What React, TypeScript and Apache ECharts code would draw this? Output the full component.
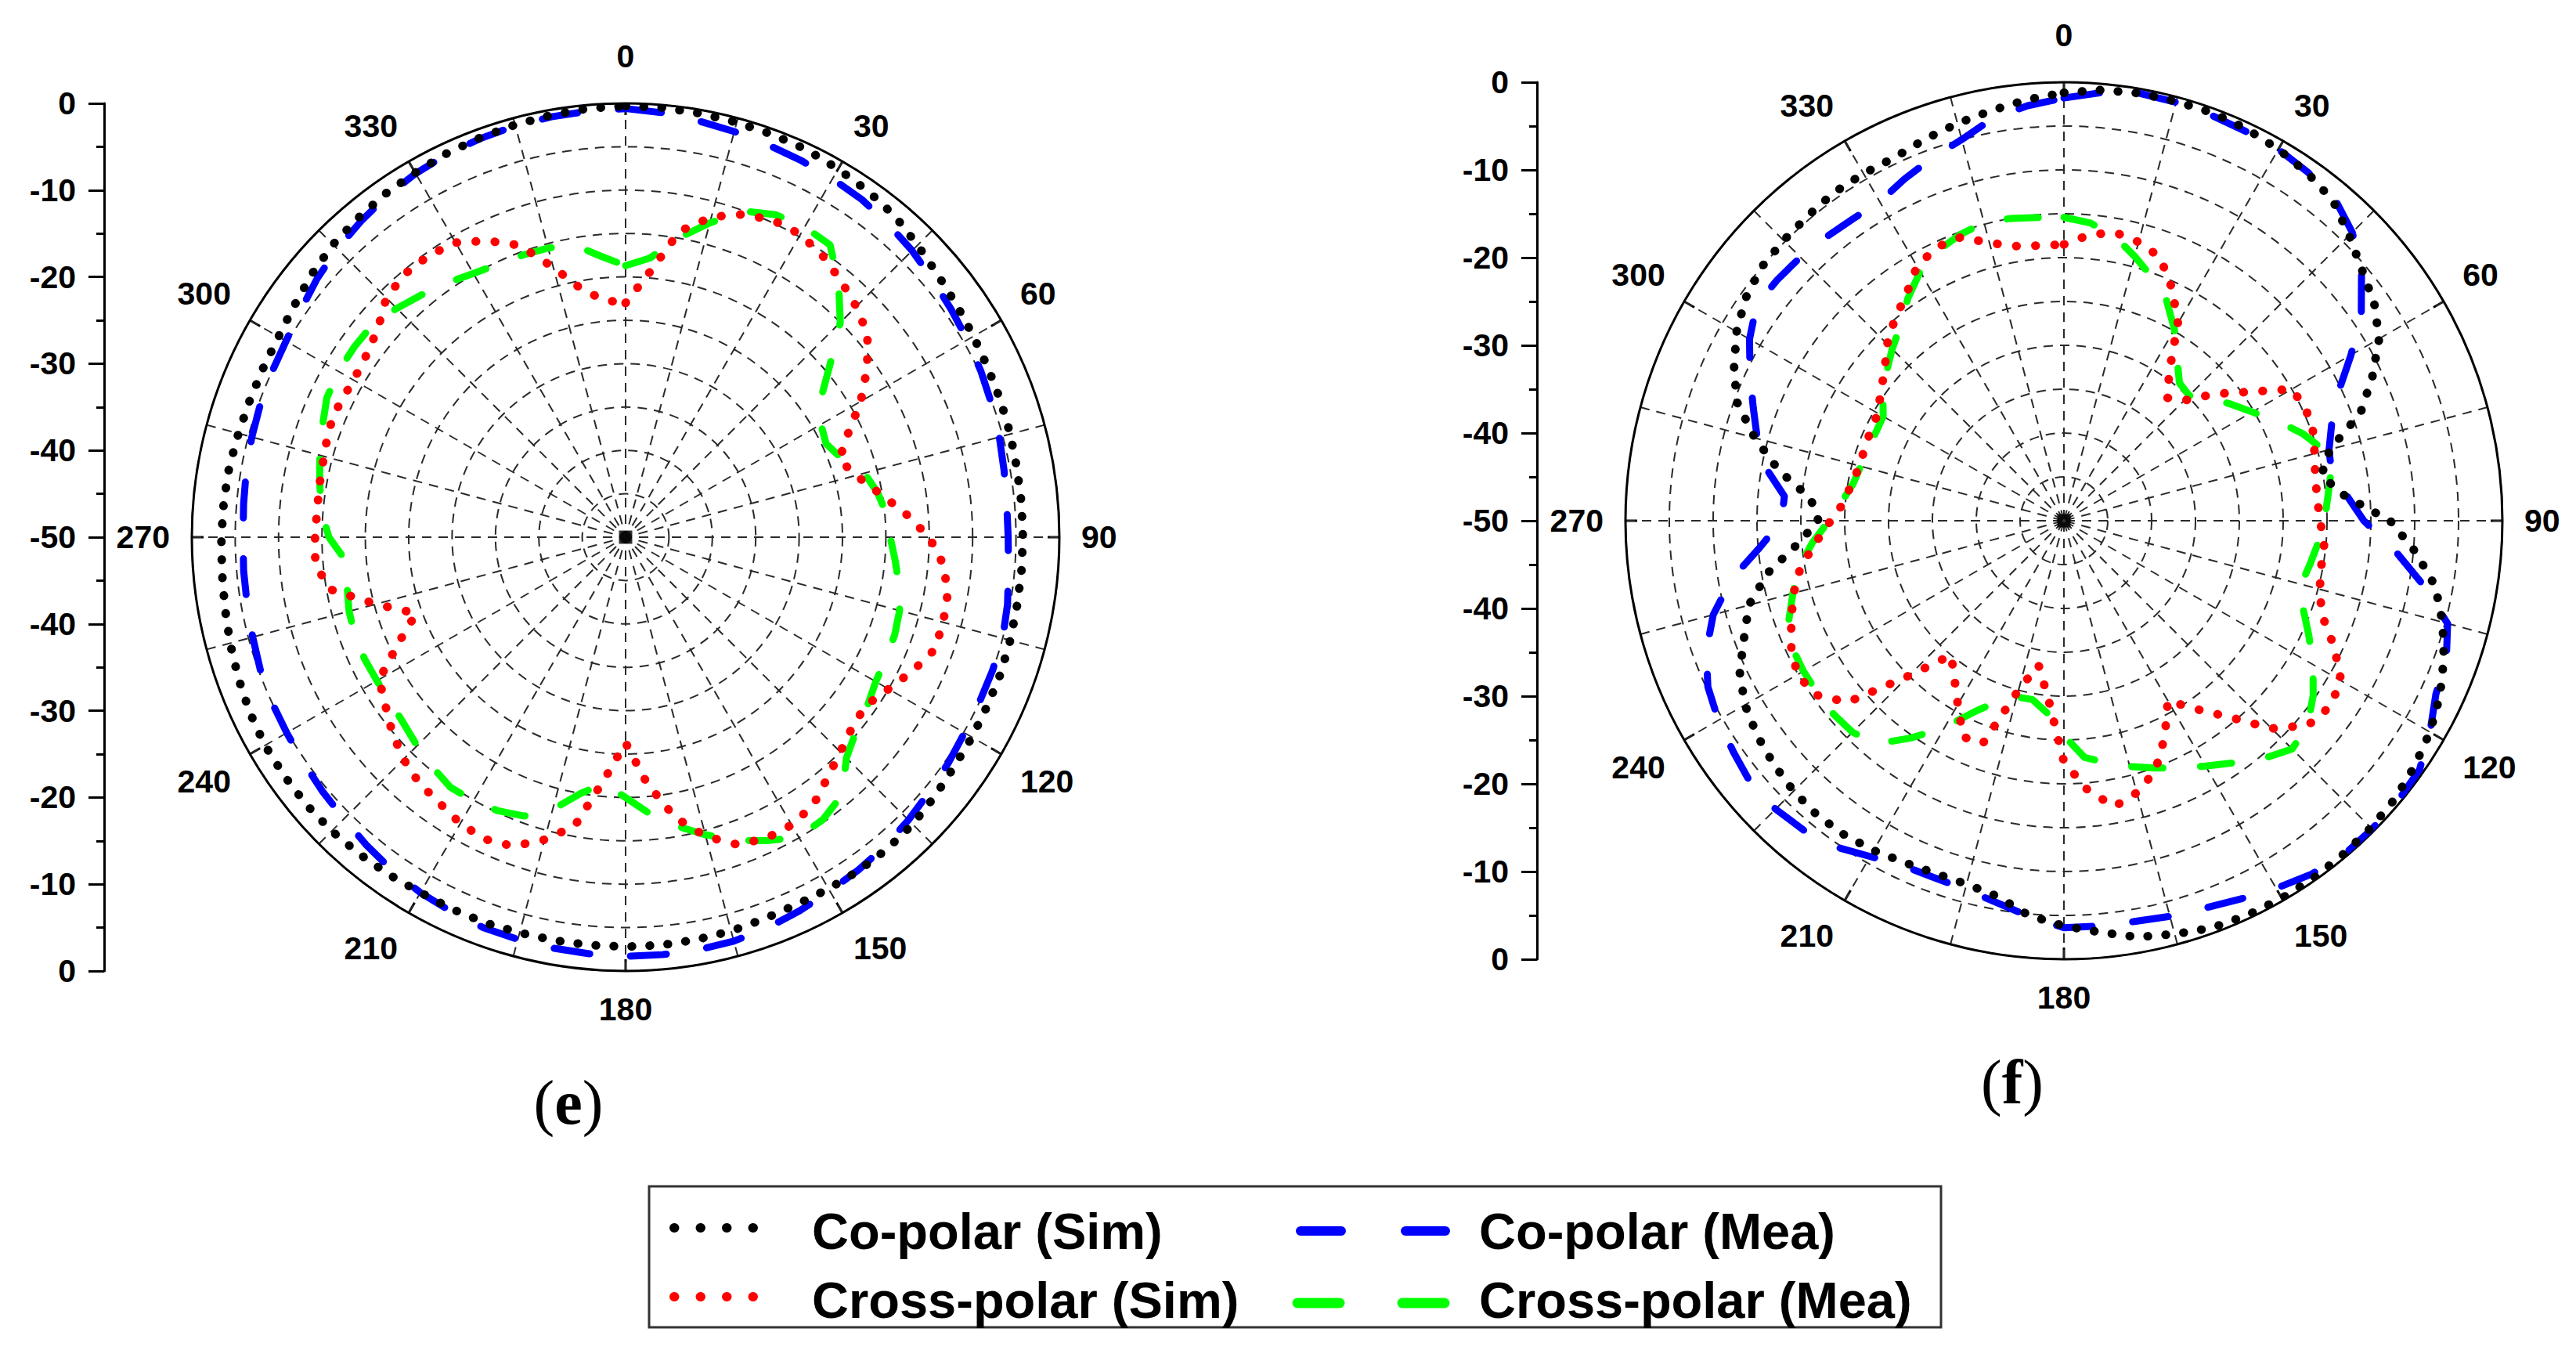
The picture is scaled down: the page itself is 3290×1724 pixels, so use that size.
import React, { useEffect, useRef } from "react";
import * as echarts from "echarts";

// Angle (deg) of every sample, shared by all series
const ANGLES = [
  0, 5, 10, 15, 20, 25, 30, 35, 40, 45, 50, 55,
  60, 65, 70, 75, 80, 85, 90, 95, 100, 105, 110, 115,
  120, 125, 130, 135, 140, 145, 150, 155, 160, 165, 170, 175,
  180, 185, 190, 195, 200, 205, 210, 215, 220, 225, 230, 235,
  240, 245, 250, 255, 260, 265, 270, 275, 280, 285, 290, 295,
  300, 305, 310, 315, 320, 325, 330, 335, 340, 345, 350, 355,
];

// (e) values in dB
const E_CO_SIM = [
  -0.3, -0.3, -0.4, -0.5, -0.6, -0.7, -1, -1.3, -1.7, -2.4, -3, -3.4,
  -3.7, -3.9, -4, -4.1, -4.2, -4.2, -4.2, -4.2, -4.2, -4.1, -4, -4,
  -3.9, -3.8, -3.5, -3.2, -3.1, -3.1, -3.2, -3.3, -3.2, -3, -2.9, -2.8,
  -2.8, -2.8, -2.8, -2.8, -2.7, -2.7, -2.7, -2.5, -2.3, -2.1, -2, -2,
  -2, -2.2, -2.5, -2.8, -3.1, -3.3, -3.4, -3.5, -3.6, -3.8, -3.9, -3.9,
  -3.8, -3.4, -2.8, -2.3, -2, -1.7, -1.5, -1.2, -1, -0.8, -0.6, -0.4,
];
const E_CO_MEA = [
  -0.6, -0.9, -1.3, -1.6, -1.9, -2.1, -2.3, -2.5, -2.9, -3.3, -3.8, -4.2,
  -4.5, -4.8, -5.1, -5.4, -5.7, -5.9, -5.9, -5.7, -5.3, -5, -5, -5,
  -4.9, -4.6, -4.3, -3.9, -3.5, -3.2, -2.9, -2.5, -2.1, -1.8, -1.7, -1.7,
  -1.7, -1.8, -1.9, -2, -2.1, -2.4, -2.7, -3.1, -3.6, -4.1, -4.4, -4.7,
  -4.9, -5, -5.2, -5.5, -5.7, -5.8, -5.9, -5.8, -5.6, -5.4, -5.2, -5,
  -4.8, -4.3, -3.6, -3, -2.5, -2, -1.6, -1.3, -1.1, -0.9, -0.8, -0.7,
];
const E_CROSS_SIM = [
  -23, -19.5, -14.2, -11.8, -10.4, -9.7, -9.7, -10.4, -11.4, -12.4, -13.6, -16,
  -18.7, -21.7, -23.8, -22.5, -20.4, -17.7, -15, -13.2, -12.3, -12.1, -12.1, -13.5,
  -15, -16.2, -15.9, -15, -13.8, -12.3, -11.7, -11.7, -12.3, -14.3, -17.2, -21.5,
  -26.3, -22, -16.2, -13.9, -12.1, -11.6, -11.9, -12.6, -13, -13.8, -14.9, -16.2,
  -17.2, -21.1, -24.3, -20.2, -15.4, -14.1, -14.2, -14.3, -14.2, -14, -13.6, -13.6,
  -13.8, -13.5, -12.7, -11, -10.4, -10.4, -10.8, -12.3, -14.2, -17.8, -21, -22.6,
];
const E_CROSS_MEA = [
  -18.7, -17.7, -15, -12.5, -10, -9, -8.7, -8.9, -11.8, -15, -19.3, -22.6,
  -24, -24.5, -23.5, -21.5, -20.5, -19.8, -19.5, -18.8, -18, -17.3, -17, -16.9,
  -16.7, -16, -15.3, -14, -11.2, -10.3, -10.1, -11.4, -12.8, -14.5, -16.2, -18,
  -20, -21.5, -20, -17.5, -15.8, -15.2, -14.9, -14.8, -15.4, -16, -16.6, -16.9,
  -16.9, -16.8, -16.8, -17, -17.4, -17.7, -15.8, -14.8, -14.2, -13.5, -12.8, -12,
  -11.8, -11.8, -11.9, -12.7, -13.5, -14.2, -14.9, -15.3, -15.4, -15.5, -15.8, -17.5,
];

// (f) values in dB
const F_CO_SIM = [
  -1.2, -0.7, -0.5, -0.5, -0.5, -0.7, -1.1, -1.6, -2.3, -4, -5.6, -6.8,
  -8.5, -11.2, -14, -18.6, -20.2, -17.8, -12.8, -9.8, -7, -5.3, -3.9, -2.7,
  -1.8, -1.2, -0.7, -0.5, -0.4, -0.3, -0.3, -0.4, -0.6, -1.2, -1.8, -2.9,
  -3.8, -4.8, -6.5, -7.1, -7.2, -7, -6.6, -6.3, -6.2, -6.4, -6.8, -7.3,
  -8, -9.2, -11.2, -12.8, -15.7, -19.5, -22, -21, -17, -13.5, -10.3, -8.5,
  -6.9, -5.7, -5, -4.8, -4.6, -4.3, -4.3, -4.3, -3.7, -3.1, -2.5, -1.8,
];
const F_CO_MEA = [
  -1.8, -1, -0.5, -0.6, -0.8, -1, -1.1, -1.5, -2, -3.5, -5.7, -8.6,
  -12.2, -15.5, -17.5, -18.7, -19, -17.6, -15.8, -12.2, -8.5, -4.7, -3.6, -3.2,
  -1.8, -0.5, -0.3, -0.3, -0.3, -0.8, -1.6, -2.4, -3, -3.3, -3.6, -3.6,
  -3.6, -4.7, -5.8, -6.5, -6.7, -6.6, -5.8, -4.6, -3.9, -3.5, -3.4, -4,
  -4.5, -5.2, -6.6, -8.6, -11.5, -15.2, -17.8, -18, -15.5, -13.8, -12.3, -10.5,
  -8.6, -7.2, -7.3, -7.5, -7.8, -8, -8, -7, -6, -5, -3.4, -2.5,
];
const F_CROSS_SIM = [
  -18.5, -17.3, -16.6, -17.1, -18, -20.8, -24, -29, -31.7, -30.6, -27.5, -24.4,
  -20, -19.6, -19.8, -20.4, -20.9, -21, -20.8, -20.2, -20.2, -19.8, -18.7, -16,
  -13.5, -13, -13.7, -16.5, -20.8, -23.8, -26.3, -22.8, -19.6, -17.9, -16.9, -19.2,
  -22.5, -29.6, -33.3, -30, -23, -22.8, -25.8, -28.2, -30, -25, -17.8, -15.4,
  -14.9, -15.7, -16.9, -18.1, -19.5, -21.6, -23.4, -24.9, -25.4, -25.9, -25.8, -25.7,
  -25.5, -24.5, -23.3, -21.5, -20, -18.6, -16.5, -15.6, -15.6, -17.2, -18.2, -18.5,
];
const F_CROSS_MEA = [
  -15.4, -15.9, -17, -18.8, -20.5, -22.3, -24.8, -27.5, -29.5, -29.8, -28.3, -26.8,
  -25.2, -23.1, -21, -19.2, -19.1, -19.8, -20.3, -20.9, -21.5, -22, -21, -19.2,
  -17.2, -15.3, -13.7, -13.2, -14.6, -16.3, -17.7, -18.9, -20, -21, -22, -22.9,
  -25.5, -28, -29.3, -29.2, -28.1, -26, -22.8, -19.8, -16.8, -15.9, -15.7, -15.7,
  -15.7, -15.8, -16.6, -18, -19.3, -21.2, -23.2, -24.6, -25.6, -26, -26.2, -26.3,
  -26.2, -24.8, -23.6, -22.3, -21, -19, -17.2, -16, -15.3, -14.8, -15, -15.3,
];

// Left-hand dB scale labels (top -> centre -> bottom)
const SCALE_LABELS = ["0", "-10", "-20", "-30", "-40", "-50", "-40", "-30", "-20", "-10", "0"];
const SERIES_NAMES = ["Co-polar (Sim)", "Co-polar (Mea)", "Cross-polar (Sim)", "Cross-polar (Mea)"];
const PANEL_NAMES = ["e", "f"];

const FONT = "Liberation Sans, Arial, sans-serif";
const SERIF = "Liberation Serif, Times New Roman, serif";

const STYLES = {
  coSim: { color: "#000000", width: 11, type: [0.5, 22.5], cap: "round" },
  coMea: { color: "#0000ff", width: 9, type: [46, 52], cap: "round" },
  crossSim: { color: "#ff0000", width: 11, type: [0.5, 24], cap: "round" },
  crossMea: { color: "#00ff00", width: 9, type: [40, 48], cap: "round" },
};

const GRID_LINE = { color: "#2a2a2a", width: 2, type: [12, 9] };

function closed(vals: number[]) {
  const d = ANGLES.map((a, i) => [vals[i], a]);
  d.push([vals[0], 360]);
  return d;
}

function buildOption() {
  const panels = [
    { center: [799, 686], r: 554, axisX: 133, data: [E_CO_MEA, E_CROSS_MEA, E_CROSS_SIM, E_CO_SIM] },
    { center: [2636, 665], r: 560, axisX: 1963, data: [F_CO_MEA, F_CROSS_MEA, F_CROSS_SIM, F_CO_SIM] },
  ];
  const keys = ["coMea", "crossMea", "crossSim", "coSim"];
  const names = [SERIES_NAMES[1], SERIES_NAMES[3], SERIES_NAMES[2], SERIES_NAMES[0]];

  const polar: any[] = [];
  const angleAxis: any[] = [];
  const radiusAxis: any[] = [];
  const grid: any[] = [];
  const xAxis: any[] = [];
  const yAxis: any[] = [];
  const series: any[] = [];

  panels.forEach((p, pi) => {
    polar.push({ center: p.center, radius: p.r });
    angleAxis.push({
      polarIndex: pi,
      type: "value",
      min: 0,
      max: 360,
      interval: 30,
      startAngle: 90,
      clockwise: true,
      axisLine: { show: true, lineStyle: { color: "#000", width: 3 } },
      axisTick: { show: true, inside: true, length: 15, lineStyle: { color: "#000", width: 3 } },
      minorTick: { show: false, splitNumber: 2 },
      axisLabel: {
        show: true,
        margin: 28,
        fontSize: 41,
        fontWeight: "bold",
        fontFamily: FONT,
        color: "#000",
        formatter: (v: number) => (v >= 360 ? "" : v === 0 ? "{top|0}" : String(v)),
        rich: {
          top: { fontSize: 41, fontWeight: "bold", fontFamily: FONT, color: "#000", padding: [0, 0, 12, 0] },
        },
      },
      splitLine: { show: true, lineStyle: GRID_LINE },
      minorSplitLine: { show: true, lineStyle: GRID_LINE },
    });
    radiusAxis.push({
      polarIndex: pi,
      type: "value",
      min: -50,
      max: 0,
      interval: 5,
      axisLine: { show: false },
      axisTick: { show: false },
      axisLabel: { show: false },
      splitLine: { show: true, lineStyle: GRID_LINE },
    });
    grid.push({ left: p.axisX, top: p.center[1] - p.r, width: 1, height: 2 * p.r });
    xAxis.push({ gridIndex: pi, type: "value", show: false });
    yAxis.push({
      gridIndex: pi,
      type: "value",
      min: 0,
      max: 100,
      interval: 10,
      inverse: true,
      position: "left",
      axisLine: { show: true, lineStyle: { color: "#000", width: 3 } },
      axisTick: { show: true, inside: false, length: 20, lineStyle: { color: "#000", width: 3 } },
      minorTick: { show: true, splitNumber: 2, length: 10, lineStyle: { color: "#000", width: 3 } },
      splitLine: { show: false },
      axisLabel: {
        margin: 36,
        fontSize: 41,
        fontWeight: "bold",
        fontFamily: FONT,
        color: "#000",
        formatter: (v: number) => SCALE_LABELS[Math.round(v / 10)],
      },
    });
    p.data.forEach((vals, si) => {
      const st: any = (STYLES as any)[keys[si]];
      series.push({
        name: names[si],
        type: "line",
        coordinateSystem: "polar",
        polarIndex: pi,
        showSymbol: false,
        symbol: "none",
        smooth: false,
        silent: true,
        z: 3 + si,
        lineStyle: { color: st.color, width: st.width, type: st.type, cap: st.cap, join: "round" },
        data: closed(vals),
      });
    });
    series.push({
      type: "scatter",
      coordinateSystem: "polar",
      polarIndex: pi,
      symbol: "rect",
      symbolSize: 17,
      itemStyle: { color: "#000" },
      silent: true,
      z: 10,
      data: [[-50, 0]],
    });
  });

  // Legend box (drawn as graphic)
  const lx = 829, ly = 1515, lw = 1650, lh = 180;
  const row1 = 1568, row2 = 1656;
  const legendItems: any[] = [
    { type: "rect", shape: { x: lx, y: ly, width: lw, height: lh }, style: { fill: "#fff", stroke: "#333", lineWidth: 3 } },
    { type: "line", shape: { x1: 861, y1: row1, x2: 995, y2: row1 }, style: { stroke: "#000", lineWidth: 12, lineDash: [0.5, 33], lineCap: "round" } },
    { type: "line", shape: { x1: 861, y1: row2, x2: 995, y2: row2 }, style: { stroke: "#ff0000", lineWidth: 12, lineDash: [0.5, 33], lineCap: "round" } },
    { type: "line", shape: { x1: 1661, y1: row1 + 4, x2: 1846, y2: row1 + 4 }, style: { stroke: "#0000ff", lineWidth: 12, lineDash: [52, 82], lineCap: "round" } },
    { type: "line", shape: { x1: 1657, y1: row2 + 8, x2: 1848, y2: row2 + 8 }, style: { stroke: "#00ff00", lineWidth: 13, lineDash: [54, 80], lineCap: "round" } },
  ];
  const texts = [
    { x: 1037, y: row1, t: SERIES_NAMES[0] },
    { x: 1037, y: row2, t: SERIES_NAMES[2] },
    { x: 1889, y: row1, t: SERIES_NAMES[1] },
    { x: 1889, y: row2, t: SERIES_NAMES[3] },
  ];
  texts.forEach((o) =>
    legendItems.push({
      type: "text",
      x: o.x,
      y: o.y + 4,
      style: {
        text: o.t,
        fontSize: 65,
        fontWeight: "bold",
        fontFamily: FONT,
        fill: "#000",
        textAlign: "left",
        textVerticalAlign: "middle",
      },
    })
  );

  const captions = [
    { x: 726, y: 1408, t: PANEL_NAMES[0] },
    { x: 2570, y: 1382, t: PANEL_NAMES[1] },
  ].map((c) => ({
    type: "text",
    x: c.x,
    y: c.y,
    style: {
      text: "{p|(}{b|" + c.t + "}{p|)}",
      textAlign: "center",
      textVerticalAlign: "middle",
      rich: {
        p: { fontSize: 80, fontFamily: SERIF, fill: "#000" },
        b: { fontSize: 80, fontFamily: SERIF, fontWeight: "bold", fill: "#000" },
      },
    },
  }));

  return {
    animation: false,
    backgroundColor: "#ffffff",
    polar,
    angleAxis,
    radiusAxis,
    grid,
    xAxis,
    yAxis,
    series,
    graphic: [...legendItems, ...captions],
  };
}

export default function App() {
  const ref = useRef<HTMLDivElement>(null);
  useEffect(() => {
    document.body.style.margin = "0";
    const chart = echarts.init(ref.current as HTMLDivElement, null, { renderer: "svg" });
    chart.setOption(buildOption() as any);
    return () => chart.dispose();
  }, []);
  return <div ref={ref} style={{ width: 3290, height: 1724 }} />;
}
